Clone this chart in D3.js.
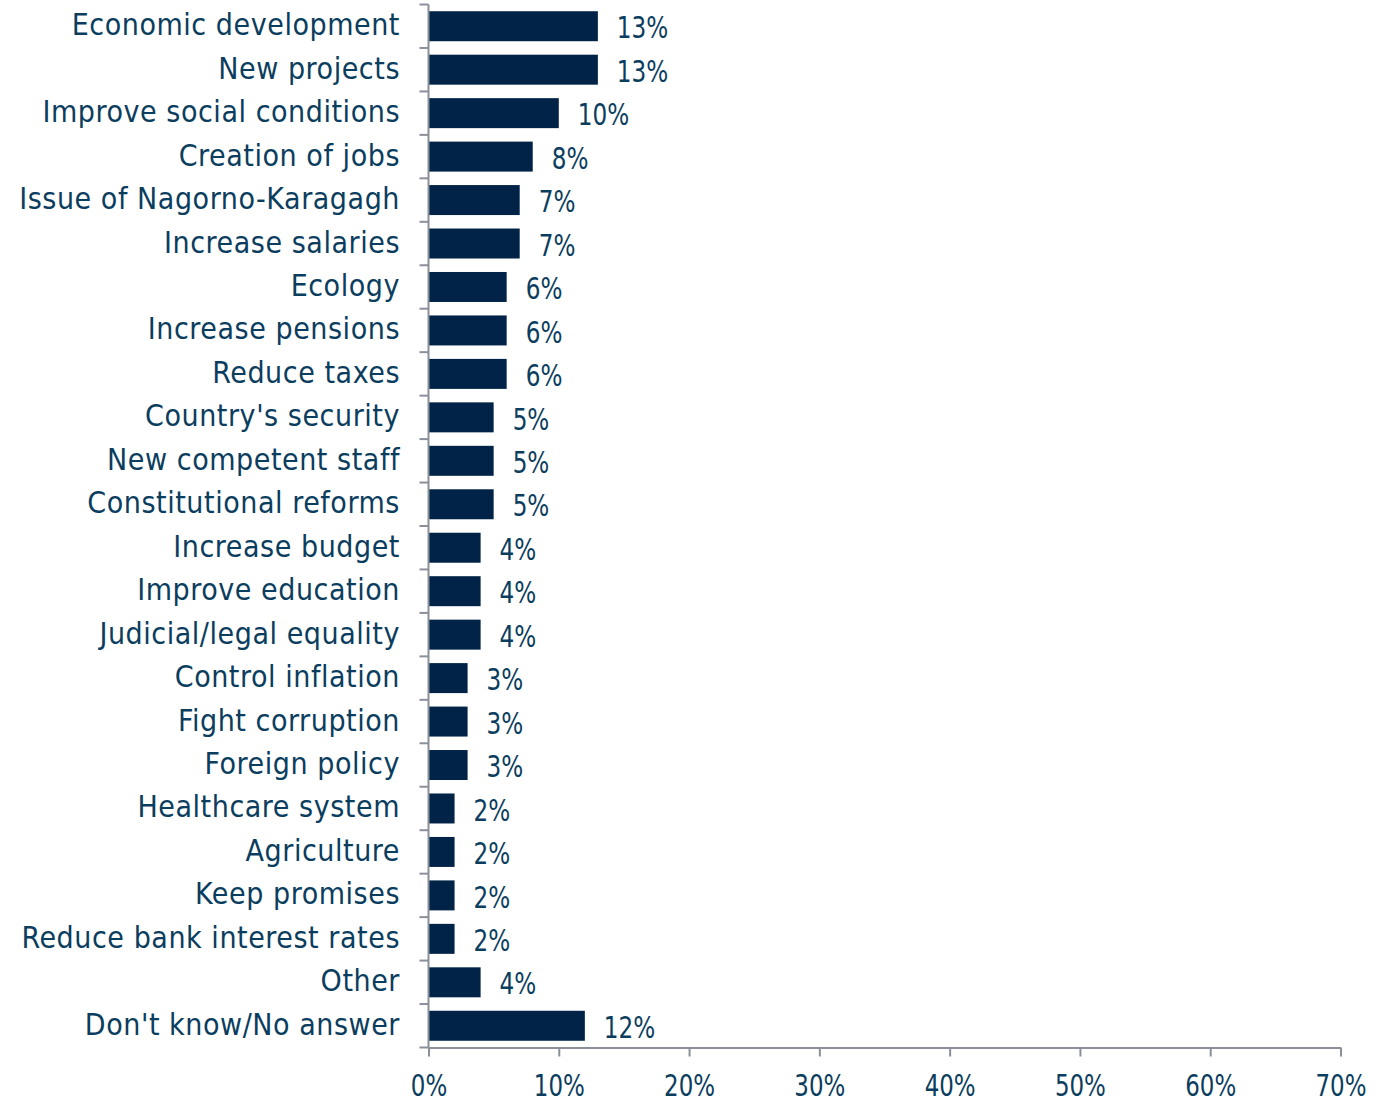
<!DOCTYPE html>
<html><head><meta charset="utf-8">
<script src="https://cdn.jsdelivr.net/npm/d3@7"></script>
<style>body{margin:0;background:#fff;} svg{display:block;}</style>
</head><body>
<svg id="chart" width="1389" height="1102"></svg>
<script>
const categories = ["Economic development","New projects","Improve social conditions","Creation of jobs","Issue of Nagorno-Karagagh","Increase salaries","Ecology","Increase pensions","Reduce taxes","Country's security","New competent staff","Constitutional reforms","Increase budget","Improve education","Judicial/legal equality","Control inflation","Fight corruption","Foreign policy","Healthcare system","Agriculture","Keep promises","Reduce bank interest rates","Other","Don't know/No answer"];
const values = [13,13,10,8,7,7,6,6,6,5,5,5,4,4,4,3,3,3,2,2,2,2,4,12];
const xTicks = [0,10,20,30,40,50,60,70];

const svg = d3.select("#chart");
const mLeft = 428.5, mRight = 1340.5, mTop = 4.5, mBottom = 1047.5;
const fontCond = "'DejaVu Sans Condensed','DejaVu Sans',sans-serif";
const textColor = "#0b3d5e", barColor = "#002347", axisColor = "#8a8f99";
const numScale = 0.83;

const x = d3.scaleLinear().domain([0,70]).range([mLeft,mRight]);
const y = d3.scaleBand().domain(categories).range([mTop,mBottom]).paddingInner(0.31).paddingOuter(0.155);

svg.append("g").selectAll("rect").data(categories).join("rect")
  .attr("x", x(0)).attr("y", d=>y(d))
  .attr("width", (d,i)=>x(values[i])-x(0)).attr("height", y.bandwidth())
  .attr("fill", barColor);

svg.append("g").selectAll("text").data(categories).join("text")
  .attr("transform", (d,i)=>`translate(${x(values[i])+19},${y(d)+y.bandwidth()/2+1}) scale(${numScale},1)`)
  .attr("dy","0.36em").attr("font-family",fontCond).attr("font-size",31)
  .attr("fill",textColor).text((d,i)=>values[i]+"%");

const step = (mBottom-mTop)/categories.length;
const yAxis = svg.append("g");
yAxis.append("line").attr("x1",mLeft).attr("x2",mLeft).attr("y1",mTop).attr("y2",mBottom)
  .attr("stroke",axisColor).attr("stroke-width",2);
yAxis.selectAll("line.t").data(d3.range(categories.length+1)).join("line").attr("class","t")
  .attr("x1",mLeft-9).attr("x2",mLeft).attr("y1",i=>mTop+i*step).attr("y2",i=>mTop+i*step)
  .attr("stroke",axisColor).attr("stroke-width",2);
yAxis.selectAll("text").data(categories).join("text")
  .attr("x",400).attr("y",d=>y(d)+y.bandwidth()/2).attr("dy","0.3em")
  .attr("text-anchor","end").attr("font-family",fontCond).attr("font-size",30)
  .attr("letter-spacing","0.55px")
  .attr("fill",textColor).text(d=>d);

const xAxis = svg.append("g").attr("transform",`translate(0,${mBottom})`)
  .call(d3.axisBottom(x).tickValues(xTicks).tickFormat(d=>d+"%").tickSize(9).tickSizeOuter(0));
xAxis.select(".domain").attr("stroke",axisColor).attr("stroke-width",2);
xAxis.selectAll(".tick line").attr("stroke",axisColor).attr("stroke-width",2);
xAxis.selectAll(".tick text").attr("font-family",fontCond).attr("font-size",30)
  .attr("fill",textColor).attr("y",null).attr("dy",null)
  .attr("transform",`translate(0,48.5) scale(0.85,1)`);
</script>
</body></html>
